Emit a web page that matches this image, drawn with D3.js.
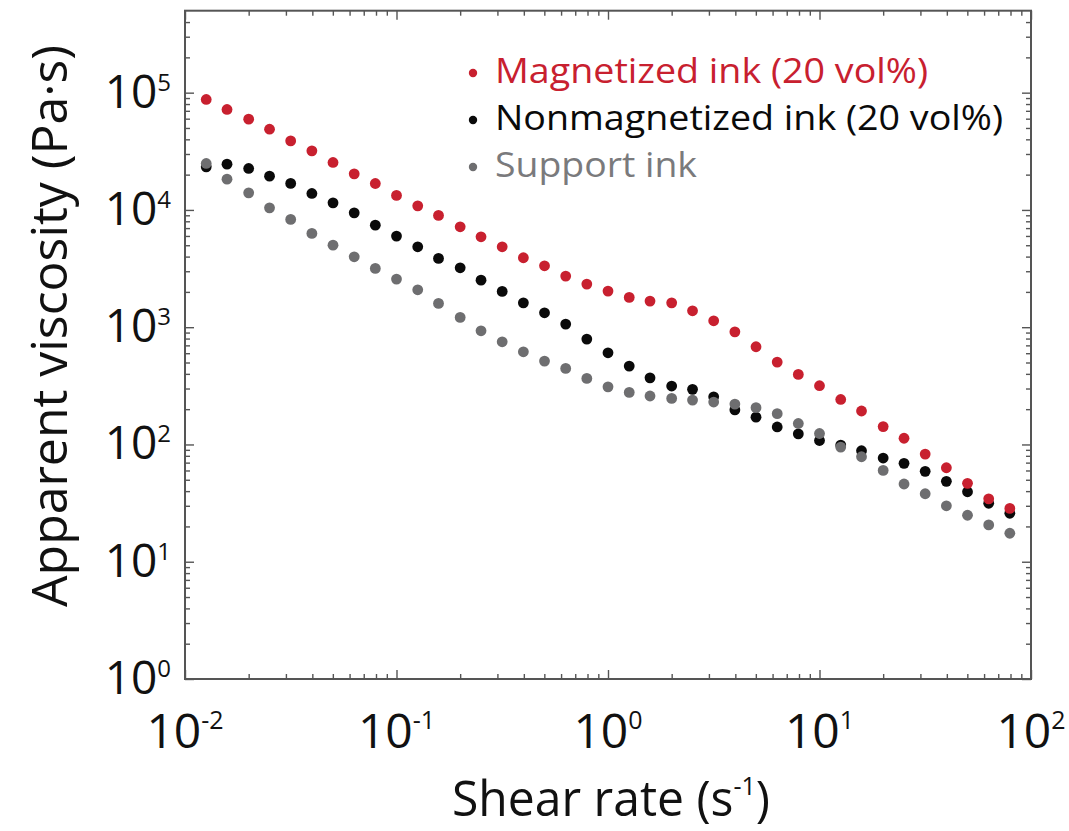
<!DOCTYPE html>
<html>
<head>
<meta charset="utf-8">
<script src="https://cdn.jsdelivr.net/npm/d3@7"></script>
<style>
  html, body { margin: 0; padding: 0; background: #fff; }
  svg { display: block; font-family: "Open Sans", "Noto Sans", sans-serif; }
</style>
</head>
<body>
<div id="chart"></div>
<script>
// shear rate (1/s), 10 points per decade
const shearRate = [0.0126, 0.0158, 0.02, 0.0251, 0.0316, 0.0398, 0.0501, 0.0631, 0.0794,
  0.1, 0.126, 0.158, 0.2, 0.251, 0.316, 0.398, 0.501, 0.631, 0.794,
  1, 1.26, 1.58, 2, 2.51, 3.16, 3.98, 5.01, 6.31, 7.94,
  10, 12.6, 15.8, 20, 25.1, 31.6, 39.8, 50.1, 63.1, 79.4];

// apparent viscosity (Pa·s)
const magnetized = [87500, 71900, 59400, 48800, 38800, 31900, 25400, 20300, 16800,
  13300, 10840, 8980, 7180, 5900, 4850, 3910, 3340, 2727, 2330,
  2031, 1795, 1669, 1614, 1380, 1134, 913, 681, 504, 396,
  317, 242, 193, 142, 113, 82.8, 63.3, 46.6, 34.4, 28.5];

const nonmagnetized = [23300, 24580, 22580, 19420, 16830, 13820, 11500, 9450, 7420,
  5980, 4850, 3860, 3210, 2520, 2020, 1614, 1327, 1063, 792,
  605, 466, 370, 315, 295, 255, 197, 171, 141, 123,
  108, 98.8, 88.4, 76.6, 69.0, 59.0, 48.5, 39.5, 31.5, 25.9];

const support = [24910, 18300, 13990, 10420, 8300, 6305, 5010, 3984, 3172,
  2571, 2084, 1596, 1212, 932, 751, 617, 514, 445, 366,
  310, 278, 259, 247, 239, 230, 221, 206, 183, 151,
  124, 95.0, 78.6, 60.1, 46.0, 38.0, 30.0, 24.9, 20.6, 17.5];

const xMajor = [0.01, 0.1, 1, 10, 100];
const xMajorExp = ["-2", "-1", "0", "1", "2"];
const yMajor = [1, 10, 100, 1000, 10000, 100000];
const yMajorExp = ["0", "1", "2", "3", "4", "5"];

const seriesNames = ["Magnetized ink (20 vol%)", "Nonmagnetized ink (20 vol%)", "Support ink"];
const seriesColors = ["#c8202f", "#0a0a0a", "#6e6e70"];
const legendText = ["#c8202f", "#0a0a0a", "#7a7a7c"];

const width = 1069, height = 831;
const L = 185, R = 1031, T = 10.7, B = 679;
const frameColor = "#555";

const svg = d3.select("#chart").append("svg")
  .attr("width", width)
  .attr("height", height);

const x = d3.scaleLog().domain([0.01, 100]).range([L, R]);
const y = d3.scaleLog().domain([1, 5e5]).range([B, T]);

const isPow10 = v => Math.abs(Math.log10(v) - Math.round(Math.log10(v))) < 1e-9;
const xMinor = x.ticks().filter(v => !isPow10(v));
const yMinor = y.ticks().filter(v => !isPow10(v) && v < 5e5);

// === Ticks (inward, mirrored on all four sides) ===
function tickLayer(axis, tx, ty) {
  const g = svg.append("g").attr("transform", `translate(${tx},${ty})`).call(axis);
  g.select(".domain").remove();
  g.selectAll("line").attr("stroke", frameColor).attr("stroke-width", 1.4);
  g.selectAll("text").remove();
}
[[9, xMajor], [5, xMinor]].forEach(([len, vals]) => {
  tickLayer(d3.axisBottom(x).tickValues(vals).tickSize(-len).tickFormat(""), 0, B);
  tickLayer(d3.axisTop(x).tickValues(vals).tickSize(-len).tickFormat(""), 0, T);
});
[[9, yMajor], [5, yMinor]].forEach(([len, vals]) => {
  tickLayer(d3.axisLeft(y).tickValues(vals).tickSize(-len).tickFormat(""), L, 0);
  tickLayer(d3.axisRight(y).tickValues(vals).tickSize(-len).tickFormat(""), R, 0);
});

// frame
svg.append("rect")
  .attr("x", L).attr("y", T)
  .attr("width", R - L).attr("height", B - T)
  .attr("fill", "none")
  .attr("stroke", frameColor)
  .attr("stroke-width", 2);

// === Tick labels with superscripts ===
const xl = svg.append("g").selectAll("text")
  .data(xMajor)
  .join("text")
  .attr("x", d => x(d))
  .attr("y", 748)
  .attr("text-anchor", "middle")
  .attr("font-size", 48)
  .attr("fill", "#111");
xl.append("tspan").text("10");
xl.append("tspan").attr("font-size", 25).attr("dy", -19).text((d, i) => xMajorExp[i]);

const yl = svg.append("g").selectAll("text")
  .data(yMajor)
  .join("text")
  .attr("x", 171)
  .attr("y", d => y(d) + 15)
  .attr("text-anchor", "end")
  .attr("font-size", 46)
  .attr("fill", "#111");
yl.append("tspan").text("10");
yl.append("tspan").attr("font-size", 24).attr("dy", -17).text((d, i) => yMajorExp[i]);

// === Axis titles ===
const xt = svg.append("text")
  .attr("x", 611)
  .attr("y", 816)
  .attr("text-anchor", "middle")
  .attr("font-size", 50)
  .attr("fill", "#111")
  .attr("textLength", 318)
  .attr("lengthAdjust", "spacingAndGlyphs");
xt.append("tspan").text("Shear rate (s");
xt.append("tspan").attr("font-size", 26).attr("dy", -21).text("-1");
xt.append("tspan").attr("dy", 21).text(")");

svg.append("text")
  .attr("transform", "translate(67,326) rotate(-90)")
  .attr("text-anchor", "middle")
  .attr("font-size", 50)
  .attr("fill", "#111")
  .attr("textLength", 562)
  .attr("lengthAdjust", "spacingAndGlyphs")
  .text("Apparent viscosity (Pa·s)");

// === Data points ===
const series = [
  { values: nonmagnetized, color: seriesColors[1] },
  { values: support, color: seriesColors[2] },
  { values: magnetized, color: seriesColors[0] }
];
series.forEach(s => {
  svg.append("g").selectAll("circle")
    .data(s.values)
    .join("circle")
    .attr("cx", (d, i) => x(shearRate[i]))
    .attr("cy", d => y(d))
    .attr("r", 5.4)
    .attr("fill", s.color);
});

// === Legend ===
const legendWidths = [433, 508, 202];
const lg = svg.append("g").selectAll("g")
  .data(seriesNames)
  .join("g")
  .attr("transform", (d, i) => `translate(0,${83 + i * 47})`);
lg.append("circle")
  .attr("cx", 473)
  .attr("cy", -10)
  .attr("r", 4.2)
  .attr("fill", (d, i) => seriesColors[i]);
lg.append("text")
  .attr("x", 495)
  .attr("y", 0)
  .attr("font-size", 35)
  .attr("fill", (d, i) => legendText[i])
  .attr("textLength", (d, i) => legendWidths[i])
  .attr("lengthAdjust", "spacingAndGlyphs")
  .text(d => d);
</script>
</body>
</html>
